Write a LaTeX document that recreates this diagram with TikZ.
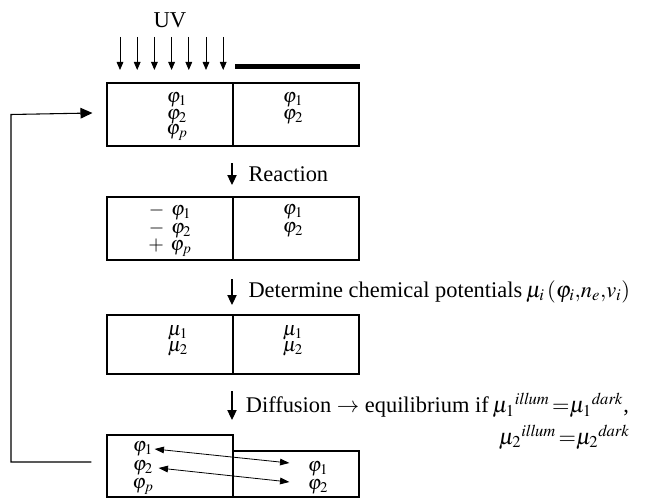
\documentclass[tikz,border=0pt]{standalone}
\usepackage{mathptmx}
\usepackage{fontspec}
\setmainfont{Liberation Serif}
\usetikzlibrary{arrows.meta, positioning, calc}

\tikzset{
  half/.style={draw, line width=0.8pt, minimum width=94.5pt, inner sep=0pt},
  txt/.style={font=\fontsize{16.8}{19}\selectfont, inner sep=0pt},
  lab/.style={font=\fontsize{15}{16}\selectfont, inner sep=1pt},
  flow/.style={line width=0.8pt, -{Triangle[length=7.5pt, width=7pt]}},
  uvray/.style={line width=0.6pt, -{Triangle[length=6pt, width=5pt]}},
  swap/.style={line width=0.6pt, {Triangle[length=7pt, width=5pt]}-{Triangle[length=7pt, width=5pt]}},
  back/.style={line width=0.8pt, -{Triangle[length=9pt, width=8pt]}}
}

\begin{document}
\begin{tikzpicture}[x=0.75pt, y=-0.75pt]
  \useasboundingbox (0,0) rectangle (645,499);

  % light and mask
  \node[txt, font=\fontsize{17}{19}\selectfont] (uv) at (170,20) {UV};
  \foreach \x in {120,137.2,...,224} \draw[uvray] (\x,37) -- (\x,70);
  \draw[line width=3.75pt] (235,67) -- (360,67);

  % cells
  \node[half, minimum height=47.25pt] (b1l) at (170,114.5) {};
  \node[half, minimum height=47.25pt] (b1r) at (296,114.5) {};
  \node[half, minimum height=47.25pt] (b2l) at (170,228.5) {};
  \node[half, minimum height=47.25pt] (b2r) at (296,228.5) {};
  \node[half, minimum height=44.25pt] (b3l) at (170,344.5) {};
  \node[half, minimum height=44.25pt] (b3r) at (296,344.5) {};
  \node[half, minimum height=46.5pt] (b4l) at (170,466) {};
  \node[half, minimum height=34.5pt] (b4r) at (296,474) {};

  % contents
  \node[lab] (a1) at (177,100) {$\varphi_1$};
  \node[lab] (a2) at (177,117) {$\varphi_2$};
  \node[lab] (ap) at (177,133) {$\varphi_p$};
  \node[lab] (a3) at (293,100) {$\varphi_1$};
  \node[lab] (a4) at (293,117) {$\varphi_2$};

  \node[lab] (c1) at (170,212) {$-\;\,\varphi_1$};
  \node[lab] (c2) at (170,230) {$-\;\,\varphi_2$};
  \node[lab] (cp) at (170,248) {$+\;\,\varphi_p$};
  \node[lab] (c3) at (293,212) {$\varphi_1$};
  \node[lab] (c4) at (293,230) {$\varphi_2$};

  \node[lab] (m1) at (178,333) {$\mu_1$};
  \node[lab] (m2) at (178,349) {$\mu_2$};
  \node[lab] (m3) at (293,333) {$\mu_1$};
  \node[lab] (m4) at (293,349) {$\mu_2$};

  \node[lab] (l1) at (143,449) {$\varphi_1$};
  \node[lab] (l2) at (143,468) {$\varphi_2$};
  \node[lab] (lp) at (143,487) {$\varphi_p$};
  \node[lab] (r1) at (318,469) {$\varphi_1$};
  \node[lab] (r2) at (318,487) {$\varphi_2$};

  \draw[swap] (l1.east) -- ($(r1.west)+(-17,-6)$);
  \draw[swap] ($(l2.east)+(4,0)$) -- ($(r2.west)+(-17,-5)$);

  % steps
  \coordinate (s1) at (232,163);
  \coordinate (s2) at (232,279);
  \coordinate (s3) at (232,391);
  \draw[flow] (s1) -- ++(0,22) node[txt, midway, right=12pt] (react) {Reaction};
  \draw[flow] (s2) -- ++(0,26) node[txt, midway, right=12pt] (pot)
    {Determine chemical potentials\,$\mu_i\,(\varphi_i,\!n_e,\!v_i)$};
  \draw[flow] (s3) -- ++(0,29) node[txt, midway, right=10pt] (diff)
    {Diffusion $\rightarrow$ equilibrium if\,$\mu_1{}^{\mathit{illum}}\,{=}\mu_1{}^{\mathit{dark}}$,};
  \node[txt, anchor=east] (eq2) at (630,437) {$\mu_2{}^{\mathit{illum}}\,{=}\mu_2{}^{\mathit{dark}}$};

  % repeat
  \coordinate (fb) at (11,0);
  \draw[back] ($(b4l.west)+(-15,-4)$) -| (fb |- b1l.west) -- ($(b1l.west)+(-14,-1.5)$);
\end{tikzpicture}
\end{document}
